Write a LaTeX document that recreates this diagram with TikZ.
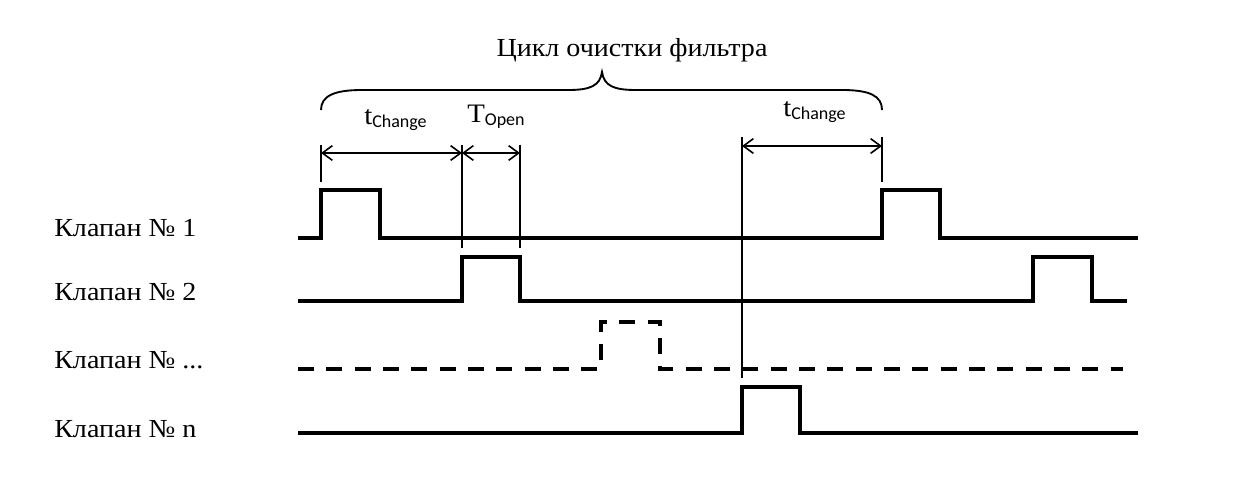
\documentclass[tikz,border=0pt]{standalone}
\usepackage{fontspec}
\setmainfont[FakeStretch=1.08]{Liberation Serif}
\newfontfamily\subf{Carlito}
\usetikzlibrary{arrows.meta}
\begin{document}
\begin{tikzpicture}[x=0.75pt,y=-0.75pt,
  sig/.style={line width=3pt,line join=miter,line cap=butt},
  sigdash/.style={sig,dash pattern=on 12pt off 9.25pt},
  guide/.style={line width=1.3pt},
  dim/.style={line width=1.2pt,{Straight Barb[length=7.5pt,width=11pt]}-{Straight Barb[length=7.5pt,width=11pt]}},
  lbl/.style={anchor=base west,inner sep=0pt,font=\fontsize{19.5pt}{23pt}\selectfont},
  tlbl/.style={anchor=base west,inner sep=0pt,font=\fontsize{20pt}{23pt}\selectfont}]
\useasboundingbox (0,0) rectangle (1244,477);
% labels
\node[lbl] (l1) at (54,236) {Клапан № 1};
\node[lbl] (l2) at (54,300) {Клапан № 2};
\node[lbl] (l3) at (54,368) {Клапан № ...};
\node[lbl] (l4) at (54,437) {Клапан № n};
\node[lbl,anchor=base] (title) at (632,57) {Цикл очистки фильтра};
\node[tlbl] (tc1) at (364,125) {t\raisebox{-2pt}{\subf\fontsize{13.5pt}{15pt}\selectfont Change}};
\node[tlbl] (to1) at (467,123) {T\raisebox{-2pt}{\subf\fontsize{13.5pt}{15pt}\selectfont Open}};
\node[tlbl] (tc2) at (783,117) {t\raisebox{-2pt}{\subf\fontsize{13.5pt}{15pt}\selectfont Change}};
% brace
\draw[line width=1.4pt] (321,110) .. controls (321,96) and (334,90) .. (362,90) -- (568,90)
  .. controls (590,90) and (600,86) .. (602,72)
  .. controls (604,86) and (614,90) .. (636,90) -- (842,90)
  .. controls (870,90) and (882,96) .. (882,110);
% guide lines
\coordinate (a1) at (321,145); \coordinate (b1) at (321,182);
\coordinate (a2) at (462,145); \coordinate (b2) at (462,248);
\coordinate (a3) at (520,145); \coordinate (b3) at (520,248);
\coordinate (a4) at (742,137); \coordinate (b4) at (742,378);
\coordinate (a5) at (882,137); \coordinate (b5) at (882,182);
\foreach \i in {1,...,5} \draw[guide] (a\i) -- (b\i);
% dimension arrows
\coordinate (d1) at (321,153); \coordinate (d2) at (462,153); \coordinate (d3) at (520,153);
\coordinate (d4) at (742,146); \coordinate (d5) at (882,146);
\draw[dim] (d1) -- (d2);
\draw[dim] (d2) -- (d3);
\draw[dim] (d4) -- (d5);
% signals
\draw[sig] (298,238) -- (321,238) -- (321,190) -- (380,190) -- (380,238) -- (882,238) -- (882,190) -- (940,190) -- (940,238) -- (1138,238);
\draw[sig] (298,301) -- (462,301) -- (462,257) -- (520,257) -- (520,301) -- (1033,301) -- (1033,257) -- (1092,257) -- (1092,301) -- (1127,301);
\draw[sigdash] (298,369) -- (601,369) -- (601,322) -- (660,322) -- (660,369) -- (1123,369);
\draw[sig] (298,433) -- (742,433) -- (742,387) -- (800,387) -- (800,433) -- (1138,433);
\end{tikzpicture}
\end{document}
